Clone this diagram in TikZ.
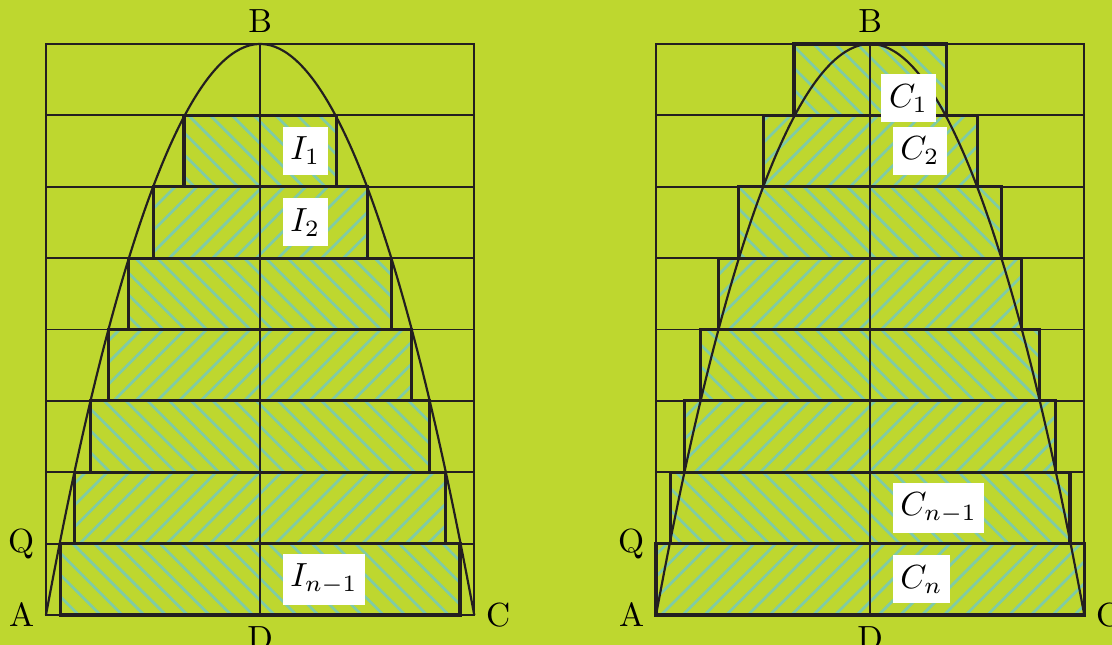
\documentclass[tikz,border=0pt]{standalone}
\usepackage{xcolor}
\usepackage{tikz}
\usetikzlibrary{patterns.meta}
\usepackage{amsmath}
\definecolor{verdino}{HTML}{BED72F}
\definecolor{acqua}{HTML}{7FCBA6}
\definecolor{nero}{HTML}{231F20}

\begin{document}
\begin{tikzpicture}[
    griglia/.style={nero, line width=0.55pt},
    striscia/.style={nero, line width=0.95pt},
    curva/.style={nero, line width=0.65pt},
    trattiA/.style={pattern={Lines[angle=-45,distance=4.6pt,line width=0.8pt]}, pattern color=acqua},
    trattiB/.style={pattern={Lines[angle=45,distance=4.6pt,line width=0.8pt]}, pattern color=acqua},
    etichetta/.style={fill=white, inner xsep=2.3pt, inner ysep=3pt, minimum height=0.47cm, anchor=west}]
  % Background
  \fill[verdino] (-0.483,-0.315) rectangle (11.201,6.462);
  \useasboundingbox (-0.483,-0.315) rectangle (11.201,6.462);

  % ---------- Left panel: inscribed strips ----------
  % Hatching
  \fill[trattiA] (1.45,4.50) rectangle (3.05,5.25);
  \fill[trattiB] (1.13,3.75) rectangle (3.38,4.50);
  \fill[trattiA] (0.87,3.00) rectangle (3.63,3.75);
  \fill[trattiB] (0.66,2.25) rectangle (3.84,3.00);
  \fill[trattiA] (0.47,1.50) rectangle (4.03,2.25);
  \fill[trattiB] (0.30,0.75) rectangle (4.20,1.50);
  \fill[trattiA] (0.15,0.00) rectangle (4.35,0.75);
  % Frame and strips
  \draw[griglia] (0,0) rectangle (4.5,6);
  \foreach \y in {0.75,1.5,...,5.25}
    \draw[griglia] (0,\y) -- (4.5,\y);
  \draw[griglia] (2.25,0) -- (2.25,6);
  % Rectangles
  \draw[striscia] (1.45,4.50) rectangle (3.05,5.25);
  \draw[striscia] (1.13,3.75) rectangle (3.38,4.50);
  \draw[striscia] (0.87,3.00) rectangle (3.63,3.75);
  \draw[striscia] (0.66,2.25) rectangle (3.84,3.00);
  \draw[striscia] (0.47,1.50) rectangle (4.03,2.25);
  \draw[striscia] (0.30,0.75) rectangle (4.20,1.50);
  \draw[striscia] (0.15,0.00) rectangle (4.35,0.75);
  % Parabola
  \draw[curva] (0,0) parabola bend (2.25,6) (4.5,0);
  % Points
  \node[left] (A1) at (0,0) {A};
  \node[above] (B1) at (2.25,6) {B};
  \node[right] (C1) at (4.5,0) {C};
  \node[below] (D1) at (2.25,0) {D};
  \node[left] (Q1) at (0,0.75) {Q};
  % Labels
  \node[etichetta] (i1) at (2.48,4.875) {$I_1$};
  \node[etichetta] (i2) at (2.48,4.125) {$I_2$};
  \node[etichetta] (in) at (2.48,0.375) {$I_{n-1}$};

  % ---------- Right panel: circumscribed strips ----------
  \begin{scope}[xshift=6.41cm]
    % Hatching
    \fill[trattiA] (1.45,5.25) rectangle (3.05,6.00);
    \fill[trattiB] (1.13,4.50) rectangle (3.38,5.25);
    \fill[trattiA] (0.87,3.75) rectangle (3.63,4.50);
    \fill[trattiB] (0.66,3.00) rectangle (3.84,3.75);
    \fill[trattiA] (0.47,2.25) rectangle (4.03,3.00);
    \fill[trattiB] (0.30,1.50) rectangle (4.20,2.25);
    \fill[trattiA] (0.15,0.75) rectangle (4.35,1.50);
    \fill[trattiB] (0.00,0.00) rectangle (4.50,0.75);
    % Frame and strips
    \draw[griglia] (0,0) rectangle (4.5,6);
    \foreach \y in {0.75,1.5,...,5.25}
      \draw[griglia] (0,\y) -- (4.5,\y);
    \draw[griglia] (2.25,0) -- (2.25,6);
    % Rectangles
    \draw[striscia] (1.45,5.25) rectangle (3.05,6.00);
    \draw[striscia] (1.13,4.50) rectangle (3.38,5.25);
    \draw[striscia] (0.87,3.75) rectangle (3.63,4.50);
    \draw[striscia] (0.66,3.00) rectangle (3.84,3.75);
    \draw[striscia] (0.47,2.25) rectangle (4.03,3.00);
    \draw[striscia] (0.30,1.50) rectangle (4.20,2.25);
    \draw[striscia] (0.15,0.75) rectangle (4.35,1.50);
    \draw[striscia] (0.00,0.00) rectangle (4.50,0.75);
    % Parabola
    \draw[curva] (0,0) parabola bend (2.25,6) (4.5,0);
    % Points
    \node[left] (A2) at (0,0) {A};
    \node[above] (B2) at (2.25,6) {B};
    \node[right] (C2) at (4.5,0) {C};
    \node[below] (D2) at (2.25,0) {D};
    \node[left] (Q2) at (0,0.75) {Q};
    % Labels
    \node[etichetta] (c1) at (2.36,5.43) {$C_1$};
    \node[etichetta] (c2) at (2.48,4.875) {$C_2$};
    \node[etichetta] (cn1) at (2.48,1.125) {$C_{n-1}$};
    \node[etichetta] (cn) at (2.48,0.375) {$C_n$};
  \end{scope}
\end{tikzpicture}
\end{document}
